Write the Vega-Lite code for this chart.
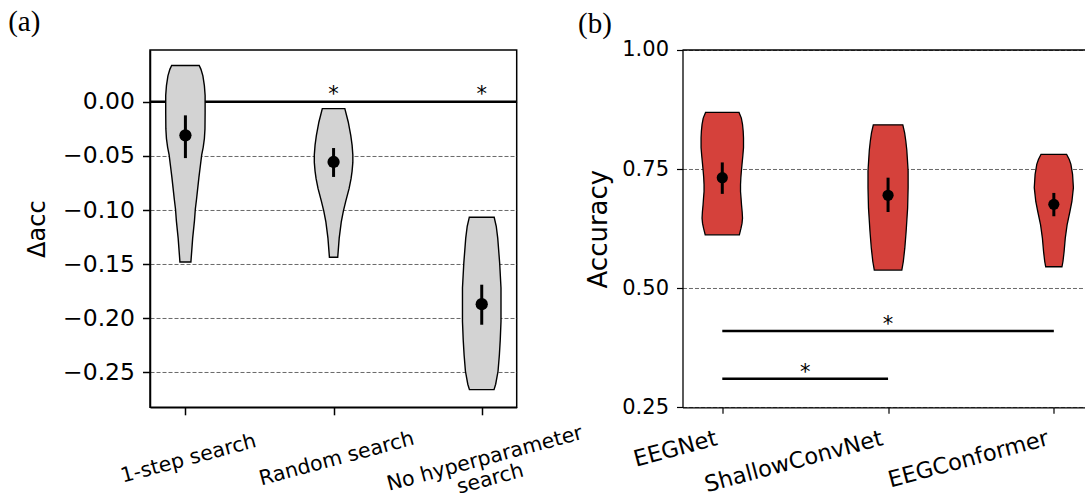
{
  "$schema": "https://vega.github.io/schema/vega-lite/v6.json",
  "background": "white",
  "padding": {"left": 7, "top": 7, "right": 0, "bottom": 0},
  "spacing": 165.5,
  "bounds": "flush",
  "config": {
    "font": "DejaVu Sans",
    "axis": {
      "domainColor": "black", "tickColor": "black", "labelColor": "black", "titleColor": "black",
      "titleFontWeight": "normal", "gridColor": "#444444", "gridDash": [4, 2], "gridWidth": 0.8,
      "labelFont": "DejaVu Sans", "titleFont": "DejaVu Sans", "labelOverlap": false, "labelFlush": false, "labelLimit": 0
    },
    "title": {"font": "Liberation Serif", "fontWeight": "normal", "color": "black"}
  },
  "datasets": {
    "vA": [
      {"g": "1-step search", "y": 0.0336, "w": 0.093},
      {"g": "1-step search", "y": 0.03, "w": 0.105},
      {"g": "1-step search", "y": 0.024, "w": 0.118},
      {"g": "1-step search", "y": 0.015, "w": 0.128},
      {"g": "1-step search", "y": 0.006, "w": 0.133},
      {"g": "1-step search", "y": -0.01, "w": 0.133},
      {"g": "1-step search", "y": -0.025, "w": 0.132},
      {"g": "1-step search", "y": -0.034, "w": 0.128},
      {"g": "1-step search", "y": -0.042, "w": 0.12},
      {"g": "1-step search", "y": -0.049, "w": 0.11},
      {"g": "1-step search", "y": -0.06, "w": 0.1},
      {"g": "1-step search", "y": -0.07, "w": 0.091},
      {"g": "1-step search", "y": -0.08, "w": 0.083},
      {"g": "1-step search", "y": -0.09, "w": 0.075},
      {"g": "1-step search", "y": -0.099, "w": 0.067},
      {"g": "1-step search", "y": -0.11, "w": 0.061},
      {"g": "1-step search", "y": -0.126, "w": 0.049},
      {"g": "1-step search", "y": -0.137, "w": 0.043},
      {"g": "1-step search", "y": -0.148, "w": 0.037},
      {"g": "Random search", "y": -0.0063, "w": 0.076},
      {"g": "Random search", "y": -0.0186, "w": 0.099},
      {"g": "Random search", "y": -0.031, "w": 0.116},
      {"g": "Random search", "y": -0.04, "w": 0.125},
      {"g": "Random search", "y": -0.049, "w": 0.13},
      {"g": "Random search", "y": -0.056, "w": 0.13},
      {"g": "Random search", "y": -0.064, "w": 0.125},
      {"g": "Random search", "y": -0.071, "w": 0.118},
      {"g": "Random search", "y": -0.08, "w": 0.105},
      {"g": "Random search", "y": -0.092, "w": 0.082},
      {"g": "Random search", "y": -0.101, "w": 0.066},
      {"g": "Random search", "y": -0.111, "w": 0.052},
      {"g": "Random search", "y": -0.126, "w": 0.038},
      {"g": "Random search", "y": -0.1436, "w": 0.028},
      {"g": "No hyperparameter search", "y": -0.1067, "w": 0.084},
      {"g": "No hyperparameter search", "y": -0.115, "w": 0.098},
      {"g": "No hyperparameter search", "y": -0.126, "w": 0.108},
      {"g": "No hyperparameter search", "y": -0.149, "w": 0.121},
      {"g": "No hyperparameter search", "y": -0.172, "w": 0.13},
      {"g": "No hyperparameter search", "y": -0.188, "w": 0.13},
      {"g": "No hyperparameter search", "y": -0.203, "w": 0.13},
      {"g": "No hyperparameter search", "y": -0.22, "w": 0.125},
      {"g": "No hyperparameter search", "y": -0.234, "w": 0.119},
      {"g": "No hyperparameter search", "y": -0.249, "w": 0.11},
      {"g": "No hyperparameter search", "y": -0.261, "w": 0.094},
      {"g": "No hyperparameter search", "y": -0.266, "w": 0.083}
    ],
    "mA": [
      {"g": "1-step search", "y": -0.031, "lo": -0.052, "hi": -0.0125},
      {"g": "Random search", "y": -0.0556, "lo": -0.0694, "hi": -0.0427},
      {"g": "No hyperparameter search", "y": -0.187, "lo": -0.206, "hi": -0.169}
    ],
    "sA": [
      {"g": "Random search", "y": 0.0005, "t": "*"},
      {"g": "No hyperparameter search", "y": 0.0005, "t": "*"}
    ],
    "vB": [
      {"g": "EEGNet", "y": 0.869, "w": 0.101},
      {"g": "EEGNet", "y": 0.857, "w": 0.115},
      {"g": "EEGNet", "y": 0.844, "w": 0.122},
      {"g": "EEGNet", "y": 0.83, "w": 0.126},
      {"g": "EEGNet", "y": 0.816, "w": 0.128},
      {"g": "EEGNet", "y": 0.795, "w": 0.128},
      {"g": "EEGNet", "y": 0.778, "w": 0.124},
      {"g": "EEGNet", "y": 0.76, "w": 0.119},
      {"g": "EEGNet", "y": 0.745, "w": 0.115},
      {"g": "EEGNet", "y": 0.732, "w": 0.112},
      {"g": "EEGNet", "y": 0.717, "w": 0.11},
      {"g": "EEGNet", "y": 0.703, "w": 0.11},
      {"g": "EEGNet", "y": 0.69, "w": 0.113},
      {"g": "EEGNet", "y": 0.675, "w": 0.116},
      {"g": "EEGNet", "y": 0.66, "w": 0.12},
      {"g": "EEGNet", "y": 0.647, "w": 0.122},
      {"g": "EEGNet", "y": 0.636, "w": 0.119},
      {"g": "EEGNet", "y": 0.626, "w": 0.113},
      {"g": "EEGNet", "y": 0.612, "w": 0.103},
      {"g": "ShallowConvNet", "y": 0.843, "w": 0.089},
      {"g": "ShallowConvNet", "y": 0.826, "w": 0.1},
      {"g": "ShallowConvNet", "y": 0.809, "w": 0.107},
      {"g": "ShallowConvNet", "y": 0.79, "w": 0.113},
      {"g": "ShallowConvNet", "y": 0.774, "w": 0.116},
      {"g": "ShallowConvNet", "y": 0.746, "w": 0.121},
      {"g": "ShallowConvNet", "y": 0.711, "w": 0.121},
      {"g": "ShallowConvNet", "y": 0.668, "w": 0.118},
      {"g": "ShallowConvNet", "y": 0.619, "w": 0.109},
      {"g": "ShallowConvNet", "y": 0.584, "w": 0.101},
      {"g": "ShallowConvNet", "y": 0.556, "w": 0.092},
      {"g": "ShallowConvNet", "y": 0.538, "w": 0.083},
      {"g": "EEGConformer", "y": 0.781, "w": 0.077},
      {"g": "EEGConformer", "y": 0.77, "w": 0.093},
      {"g": "EEGConformer", "y": 0.76, "w": 0.103},
      {"g": "EEGConformer", "y": 0.739, "w": 0.113},
      {"g": "EEGConformer", "y": 0.711, "w": 0.118},
      {"g": "EEGConformer", "y": 0.682, "w": 0.109},
      {"g": "EEGConformer", "y": 0.661, "w": 0.097},
      {"g": "EEGConformer", "y": 0.633, "w": 0.08},
      {"g": "EEGConformer", "y": 0.605, "w": 0.069},
      {"g": "EEGConformer", "y": 0.577, "w": 0.062},
      {"g": "EEGConformer", "y": 0.556, "w": 0.055},
      {"g": "EEGConformer", "y": 0.545, "w": 0.049}
    ],
    "mB": [
      {"g": "EEGNet", "y": 0.732, "lo": 0.698, "hi": 0.764},
      {"g": "ShallowConvNet", "y": 0.695, "lo": 0.66, "hi": 0.732},
      {"g": "EEGConformer", "y": 0.676, "lo": 0.651, "hi": 0.7}
    ],
    "sB": [
      {"a": "EEGNet", "b": "EEGConformer", "y": 0.41, "t": "*"},
      {"a": "EEGNet", "b": "ShallowConvNet", "y": 0.31, "t": "*"}
    ]
  },
  "hconcat": [
    {
      "width": 366.7,
      "height": 357.3,
      "view": {"stroke": "black", "strokeWidth": 1.5},
      "title": {"text": "(a)", "anchor": "start", "frame": "group", "dx": -141.8, "fontSize": 29, "baseline": "alphabetic", "offset": -10},
      "layer": [
        {
          "data": {"values": [{"y": 0}]},
          "mark": {"type": "rule", "color": "black", "strokeWidth": 2.5},
          "encoding": {
            "y": {
              "field": "y", "type": "quantitative",
              "scale": {"domain": [-0.2823, 0.0479], "nice": false, "zero": false},
              "axis": {
                "values": [0, -0.05, -0.1, -0.15, -0.2, -0.25], "format": ".2f",
                "labelFontSize": 23.5, "tickSize": 7.5, "tickWidth": 1.5, "domainWidth": 1.5,
                "labelPadding": 8, "grid": true, "title": "Δacc", "titleFontSize": 24, "titlePadding": 13
              }
            }
          }
        },
        {
          "data": {"name": "vA"},
          "transform": [
            {"calculate": "indexof(['1-step search', 'Random search', 'No hyperparameter search'], datum.g) + 1 - datum.w", "as": "x"},
            {"calculate": "indexof(['1-step search', 'Random search', 'No hyperparameter search'], datum.g) + 1 + datum.w", "as": "x2"}
          ],
          "mark": {"type": "area", "orient": "horizontal", "fill": "#d3d3d3", "stroke": "black", "strokeWidth": 1.4, "opacity": 1},
          "encoding": {
            "y": {"field": "y", "type": "quantitative"},
            "x": {
              "field": "x", "type": "quantitative",
              "scale": {"domain": [0.761, 3.236], "nice": false, "zero": false},
              "axis": {
                "values": [1, 2, 3],
                "labelExpr": "datum.value == 1 ? '1-step search' : datum.value == 2 ? 'Random search' : ['No hyperparameter', 'search']",
                "labelAngle": -15, "labelAlign": "center", "labelBaseline": "top", "labelFontSize": 20.5,
                "labelLineHeight": 21, "labelPadding": 34, "tickSize": 7.5, "tickWidth": 1.5, "domainWidth": 1.5,
                "grid": false, "title": null
              }
            },
            "x2": {"field": "x2"},
            "detail": {"field": "g"}
          }
        },
        {
          "data": {"name": "mA"},
          "transform": [
            {"calculate": "indexof(['1-step search', 'Random search', 'No hyperparameter search'], datum.g) + 1", "as": "x"}
          ],
          "mark": {"type": "rule", "color": "black", "strokeWidth": 3},
          "encoding": {
            "x": {"field": "x", "type": "quantitative"},
            "y": {"field": "lo", "type": "quantitative"},
            "y2": {"field": "hi"}
          }
        },
        {
          "data": {"name": "mA"},
          "transform": [
            {"calculate": "indexof(['1-step search', 'Random search', 'No hyperparameter search'], datum.g) + 1", "as": "x"}
          ],
          "mark": {"type": "circle", "color": "black", "size": 150, "opacity": 1},
          "encoding": {
            "x": {"field": "x", "type": "quantitative"},
            "y": {"field": "y", "type": "quantitative"}
          }
        },
        {
          "data": {"name": "sA"},
          "transform": [
            {"calculate": "indexof(['1-step search', 'Random search', 'No hyperparameter search'], datum.g) + 1", "as": "x"}
          ],
          "mark": {"type": "text", "fontSize": 21, "baseline": "alphabetic", "align": "center", "fill": "black"},
          "encoding": {
            "x": {"field": "x", "type": "quantitative"},
            "y": {"field": "y", "type": "quantitative"},
            "text": {"field": "t"}
          }
        }
      ]
    },
    {
      "width": 404,
      "height": 357.3,
      "view": {"stroke": null},
      "title": {"text": "(b)", "anchor": "start", "frame": "group", "dx": -104.5, "fontSize": 29, "baseline": "alphabetic", "offset": -23},
      "layer": [
        {
          "data": {"values": [{"y": 1}]},
          "mark": {"type": "rule", "color": "black", "strokeWidth": 1.3},
          "encoding": {
            "y": {
              "field": "y", "type": "quantitative",
              "scale": {"domain": [0.25, 1.0], "nice": false, "zero": false},
              "axis": {
                "values": [0.25, 0.5, 0.75, 1.0], "format": ".2f",
                "labelFontSize": 21, "tickSize": 6, "tickWidth": 1.2, "domainWidth": 1.3,
                "labelPadding": 8, "grid": true, "title": "Accuracy", "titleFontSize": 26, "titlePadding": 10
              }
            }
          }
        },
        {
          "data": {"name": "vB"},
          "transform": [
            {"calculate": "indexof(['EEGNet', 'ShallowConvNet', 'EEGConformer'], datum.g) + 1 - datum.w", "as": "x"},
            {"calculate": "indexof(['EEGNet', 'ShallowConvNet', 'EEGConformer'], datum.g) + 1 + datum.w", "as": "x2"}
          ],
          "mark": {"type": "area", "orient": "horizontal", "fill": "#d5413b", "stroke": "black", "strokeWidth": 1.3, "opacity": 1},
          "encoding": {
            "y": {"field": "y", "type": "quantitative"},
            "x": {
              "field": "x", "type": "quantitative",
              "scale": {"domain": [0.76, 3.197], "nice": false, "zero": false},
              "axis": {
                "values": [1, 2, 3],
                "labelExpr": "datum.value == 1 ? 'EEGNet' : datum.value == 2 ? 'ShallowConvNet' : 'EEGConformer'",
                "labelAngle": -15, "labelAlign": "right", "labelBaseline": "top", "labelFontSize": 22.5,
                "labelPadding": 13.5, "labelOffset": -9, "tickSize": 6, "tickWidth": 1.2, "domainWidth": 1.3,
                "grid": false, "title": null
              }
            },
            "x2": {"field": "x2"},
            "detail": {"field": "g"}
          }
        },
        {
          "data": {"name": "mB"},
          "transform": [
            {"calculate": "indexof(['EEGNet', 'ShallowConvNet', 'EEGConformer'], datum.g) + 1", "as": "x"}
          ],
          "mark": {"type": "rule", "color": "black", "strokeWidth": 3},
          "encoding": {
            "x": {"field": "x", "type": "quantitative"},
            "y": {"field": "lo", "type": "quantitative"},
            "y2": {"field": "hi"}
          }
        },
        {
          "data": {"name": "mB"},
          "transform": [
            {"calculate": "indexof(['EEGNet', 'ShallowConvNet', 'EEGConformer'], datum.g) + 1", "as": "x"}
          ],
          "mark": {"type": "circle", "color": "black", "size": 125, "opacity": 1},
          "encoding": {
            "x": {"field": "x", "type": "quantitative"},
            "y": {"field": "y", "type": "quantitative"}
          }
        },
        {
          "data": {"name": "sB"},
          "transform": [
            {"calculate": "indexof(['EEGNet', 'ShallowConvNet', 'EEGConformer'], datum.a) + 1", "as": "x"},
            {"calculate": "indexof(['EEGNet', 'ShallowConvNet', 'EEGConformer'], datum.b) + 1", "as": "x2"}
          ],
          "mark": {"type": "rule", "color": "black", "strokeWidth": 2.5},
          "encoding": {
            "x": {"field": "x", "type": "quantitative"},
            "x2": {"field": "x2"},
            "y": {"field": "y", "type": "quantitative"}
          }
        },
        {
          "data": {"name": "sB"},
          "transform": [
            {"calculate": "(indexof(['EEGNet', 'ShallowConvNet', 'EEGConformer'], datum.a) + indexof(['EEGNet', 'ShallowConvNet', 'EEGConformer'], datum.b)) / 2 + 1", "as": "x"}
          ],
          "mark": {"type": "text", "fontSize": 21, "baseline": "alphabetic", "align": "center", "fill": "black"},
          "encoding": {
            "x": {"field": "x", "type": "quantitative"},
            "y": {"field": "y", "type": "quantitative"},
            "text": {"field": "t"}
          }
        }
      ]
    }
  ]
}
